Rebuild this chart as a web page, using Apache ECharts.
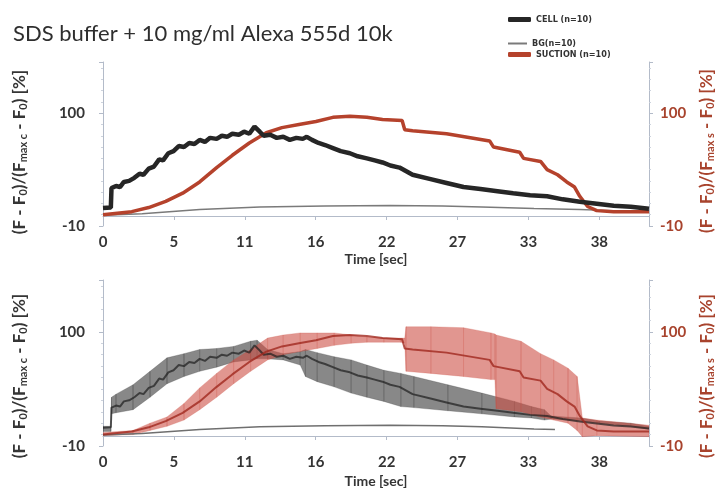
<!DOCTYPE html>
<html><head><meta charset="utf-8">
<script src="https://cdn.jsdelivr.net/npm/echarts@6/dist/echarts.min.js"></script>
<style>html,body{margin:0;padding:0;background:#fff}#c{width:719px;height:496px}</style>
</head><body><div id="c"></div>
<script>
// ---------------- data ----------------
const chartTitle = 'SDS buffer + 10 mg/ml Alexa 555d 10k';
const xTickLabels = ['0', '5', '11', '16', '22', '27', '33', '38'];
const yTickLabels = ['-10', '100'];
const seriesNames = ['CELL (n=10)', 'BG(n=10)', 'SUCTION (n=10)'];
const leftAxisTitle = '(F - F{s|0})/(F{s|max c} - F{s|0}) [%]';
const rightAxisTitle = '(F - F{s|0})/(F{s|max s} - F{s|0}) [%]';

// [time s, value %]
const cellTop = [[0,7.5],[0.6,8],[0.65,27],[1.0,29],[1.3,28],[1.6,33],[2.0,34],[2.4,37],[2.8,41],[3.1,40],[3.5,46],[3.9,48],[4.3,55],[4.6,54],[5.0,61],[5.4,63],[5.8,68],[6.2,67],[6.6,71],[7.0,70],[7.4,74],[7.8,72],[8.2,76],[8.7,75],[9.1,78],[9.5,77],[9.9,80],[10.4,79],[10.8,82],[11.2,80],[11.6,87],[12.0,82],[12.3,78],[12.8,79],[13.3,76],[13.8,77],[14.3,74],[14.8,76],[15.3,75],[15.6,77],[16.0,74],[16.5,71],[17.0,69],[17.6,66],[18.2,63],[18.9,61],[19.5,58],[20.2,56],[20.8,54],[21.4,52],[22.0,49],[22.7,47],[23.7,40],[25.0,36],[26.3,32],[27.6,28],[28.9,26],[30.2,24],[31.4,22],[32.7,20],[34.0,19],[35.2,16],[36.5,13.6],[37.8,11.7],[39.1,9.7],[40.4,8.8],[41.8,6.8]];
const suctionTop = [[0,1],[2.2,4],[3.5,8],[4.8,14],[6.1,22],[7.4,33],[8.7,47],[9.9,59],[11.2,71],[12.5,81],[13.7,86],[15.0,89],[16.3,92],[17.6,96],[18.9,97],[20.2,96],[21.4,94],[22.9,93],[23.1,84],[23.7,83],[26.3,80],[29.6,73],[29.9,67],[31.9,62],[32.2,56],[33.5,53],[34.0,45],[34.8,40],[35.5,33],[36.1,28],[36.5,19],[37.1,9],[37.8,5],[39.1,4],[41.8,4]];
const bgTop = [[0,0.5],[3,2],[7.4,6],[12,8.5],[17,9.5],[22,10],[26,9.5],[29,8.5],[33,7],[36.5,6],[39,5],[41.8,4]];

// bottom panel: [time s, low, high]
const cellBand = [[0,4,9],[0.6,4,9],[0.65,21,37],[1,22,40],[2.3,25,49],[3.6,37,62],[4.9,50,75],[6.2,57,79],[7.4,62,83],[8.7,66,84],[10,71,86],[11.3,73,91],[11.8,74,92],[12.6,74,83],[13.8,73,79],[15.1,68,81],[15.5,57,83],[16.4,52,80],[17.7,47,76],[19,41,73],[20.2,37,68],[21.5,33,63],[22.8,28,60],[23.8,27,57],[26.4,24,49],[29,21,41],[31.5,18,33],[32.8,17,28],[33.8,15,25],[34.3,16,19],[36.6,14,17],[38,12,14],[40.4,9,12],[41.8,6,9]];
const suctionBand = [[0,0,3],[2.3,1,5],[3.6,5,12],[4.9,9,18],[6.2,15,31],[7.4,25,46],[8.7,37,60],[10,50,73],[11.3,62,83],[12.6,73,94],[13.8,78,97],[15.1,81,99],[16.4,84,99],[17.7,87,99],[19,89,97],[20.2,90,95],[21.5,90,94],[22.8,90,94],[23.1,89,94],[23.2,62,105],[25.1,60,105],[27.6,57,104],[29.7,54,99],[30.0,54,98],[30.1,26,97],[32,23,91],[33.5,18,79],[34.5,15,73],[35.6,12,65],[36.3,5,57],[36.7,-1,17],[37.8,0,15],[41.8,-1,10]];
const bgBottom = [[0,0.5],[3,2],[7.4,6],[12,8.5],[17,9.5],[22,10],[26,9.5],[29,8.5],[33,6.5],[34.6,6]];

// ---------------- style ----------------
const FONT = 'Lato, "Open Sans", sans-serif';
const DARK = '#353535';
const RED = '#b5422c';
const RED_TXT = '#a8432d';
const AXIS = '#b3bbc9';
const X_STEP = 38 / 7;

function yAxisCfg(grid, right) {
  const col = right ? RED_TXT : DARK;
  return {
    type: 'value', gridIndex: grid, position: right ? 'right' : 'left',
    min: -10, max: 150, interval: 110,
    axisLine: { show: true, onZero: false, lineStyle: { color: AXIS, width: 1 } },
    axisTick: { show: true, length: 4, lineStyle: { color: AXIS } },
    minorTick: { show: true, splitNumber: 10, length: 2, lineStyle: { color: '#cdd3dd' } },
    splitLine: { show: false },
    axisLabel: {
      formatter: v => yTickLabels.includes(String(v)) ? String(v) : '',
      fontFamily: FONT, fontWeight: 'bold', fontSize: 15, color: col, margin: right ? 11 : 18
    }
  };
}
function xAxisCfg(grid, gap) {
  return {
    type: 'value', gridIndex: grid, min: 0, max: 41.8, interval: X_STEP,
    offset: -10,
    axisLine: { onZero: false, lineStyle: { color: AXIS, width: 1 } },
    axisTick: { show: true, length: 4, lineStyle: { color: AXIS } },
    splitLine: { show: false },
    axisLabel: {
      formatter: v => {
        const i = Math.round(v / X_STEP);
        return (Math.abs(v - i * X_STEP) < 1e-3 && i < xTickLabels.length) ? xTickLabels[i] : '';
      },
      fontFamily: FONT, fontWeight: 'bold', fontSize: 15, color: DARK, margin: 19
    },
    name: 'Time [sec]', nameLocation: 'middle', nameGap: gap,
    nameTextStyle: { fontFamily: FONT, fontWeight: 'bold', fontSize: 14, color: DARK }
  };
}
function axisTitle(text, x, y, col) {
  return {
    type: 'text', x, y, rotation: Math.PI / 2, silent: true,
    style: {
      text, fill: col, align: 'center', verticalAlign: 'middle',
      font: 'bold 17px ' + FONT,
      rich: { s: { font: 'bold 11px ' + FONT, fill: col, verticalAlign: 'bottom', lineHeight: 12, padding: [6, 0, 0, 0] } }
    }
  };
}
function line(name, data, xi, yi, color, width, z) {
  return { name, type: 'line', xAxisIndex: xi, yAxisIndex: yi, data, symbol: 'none',
    lineStyle: { color, width }, itemStyle: { color }, z, animation: false };
}
function band(rows, xi, yi, fill, z) {
  const segs = [];
  for (let i = 0; i < rows.length - 1; i++) {
    segs.push([rows[i][0], rows[i][1], rows[i][2], rows[i + 1][0], rows[i + 1][1], rows[i + 1][2]]);
  }
  return {
    type: 'custom', xAxisIndex: xi, yAxisIndex: yi, data: segs, z, silent: true, animation: false,
    encode: { x: [0, 3], y: [1, 2, 4, 5] }, clip: true,
    renderItem: (params, api) => ({
      type: 'polygon',
      shape: { points: [
        api.coord([api.value(0), api.value(1)]), api.coord([api.value(3), api.value(4)]),
        api.coord([api.value(3), api.value(5)]), api.coord([api.value(0), api.value(2)])
      ] },
      style: { fill, stroke: fill, lineWidth: 0.4 }
    })
  };
}

const legendText = { fontFamily: '"DejaVu Sans Condensed", "DejaVu Sans", sans-serif', fontWeight: 'bold', fontSize: 9, color: '#333' };
const option = {
  backgroundColor: '#fff',
  animation: false,
  title: { text: chartTitle, left: 8, top: 18, textStyle: { fontFamily: FONT, fontWeight: 'normal', fontSize: 22, color: '#2e2e2e' } },
  legend: [
    { left: 503, top: 10, itemWidth: 23, itemHeight: 5, selectedMode: false, textStyle: legendText,
      data: [{ name: seriesNames[0], icon: 'roundRect', itemStyle: { color: '#262626' } }] },
    { left: 503, top: 34, itemWidth: 19, itemHeight: 2, selectedMode: false, textStyle: legendText,
      data: [{ name: seriesNames[1], icon: 'rect', itemStyle: { color: '#7a7a7a' } }] },
    { left: 503, top: 45, itemWidth: 23, itemHeight: 5, selectedMode: false, textStyle: legendText,
      data: [{ name: seriesNames[2], icon: 'roundRect', itemStyle: { color: RED } }] }
  ],
  graphic: [
    axisTitle(leftAxisTitle, 20, 152, DARK),
    axisTitle(rightAxisTitle, 707, 151, RED_TXT),
    axisTitle(leftAxisTitle, 20, 376, DARK),
    axisTitle(rightAxisTitle, 707, 376, RED_TXT)
  ],
  grid: [
    { left: 103, right: 70, top: 62, height: 164 },
    { left: 103, right: 70, top: 280, height: 166 }
  ],
  xAxis: [xAxisCfg(0, 36), xAxisCfg(1, 38)],
  yAxis: [yAxisCfg(0, false), yAxisCfg(0, true), yAxisCfg(1, false), yAxisCfg(1, true)],
  series: [
    line(seriesNames[1], bgTop, 0, 0, '#7a7a7a', 1.5, 2),
    line(seriesNames[2], suctionTop, 0, 1, RED, 3.5, 3),
    line(seriesNames[0], cellTop, 0, 0, '#262626', 4.5, 4),
    band(cellBand, 1, 2, 'rgba(50,50,50,0.58)', 2),
    band(suctionBand, 1, 3, 'rgba(205,80,70,0.6)', 3),
    line('BG bottom', bgBottom, 1, 2, '#6f6f6f', 1.5, 4),
    line('CELL bottom', cellTop, 1, 2, 'rgba(30,30,30,0.7)', 2, 5),
    line('SUCTION bottom', suctionTop, 1, 3, 'rgba(160,40,30,0.8)', 2, 5)
  ]
};
const chart = echarts.init(document.getElementById('c'), null, { renderer: 'canvas' });
chart.setOption(option);
</script>
</body></html>
